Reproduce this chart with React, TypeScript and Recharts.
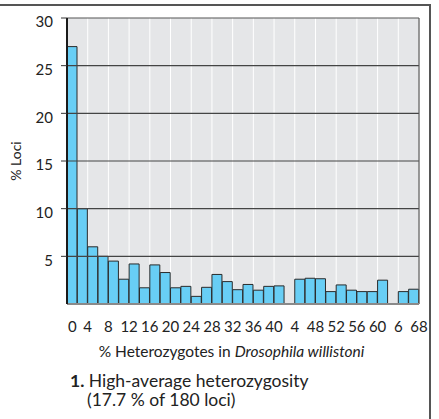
import React from 'react';
import { BarChart, Bar, XAxis, YAxis, CartesianGrid, ReferenceLine, Label } from 'recharts';

// bins of 2 % heterozygosity, 0–68
const binStarts = [
  0, 2, 4, 6, 8, 10, 12, 14, 16, 18, 20, 22, 24, 26, 28, 30, 32,
  34, 36, 38, 40, 42, 44, 46, 48, 50, 52, 54, 56, 58, 60, 62, 64, 66,
];
const lociPercent = [
  27, 10, 6, 5, 4.5, 2.6, 4.2, 1.7, 4.1, 3.3, 1.7, 1.85, 0.8, 1.75, 3.1, 2.35, 1.5,
  2.05, 1.45, 1.85, 1.9, 0, 2.6, 2.7, 2.65, 1.3, 2, 1.45, 1.3, 1.3, 2.5, 0, 1.3, 1.55,
];
const xTicks = [0, 4, 8, 12, 16, 20, 24, 28, 32, 36, 40, 44, 48, 52, 56, 60, 64, 68];
const xTickLabels = ['0', '4', '8', '12', '16', '20', '24', '28', '32', '36', '40', '4', '48', '52', '56', '60', '6', '68'];
const yTicks = [5, 10, 15, 20, 25, 30];
const gridLevels = [5, 10, 15, 20, 25];

const data = binStarts.map((start, i) => ({
  bin: `${start}-${start + 2}`,
  start,
  value: lociPercent[i],
}));

const FONT = 'Lato, "Open Sans", sans-serif';

const XTick = (props: any) => {
  const { x, y, payload } = props;
  const label = xTickLabels[xTicks.indexOf(payload.value)];
  // first label sits just right of the axis corner
  const anchor = payload.value === 0 ? 'start' : 'middle';
  return (
    <text x={payload.value === 0 ? x + 1 : x} y={y + 20} textAnchor={anchor} fontSize={15} fill="#222" fontFamily={FONT}>
      {label}
    </text>
  );
};

const YLabel = (props: any) => {
  const vb = props.viewBox || { x: 0, y: 18, height: 286 };
  const cx = 17;
  const cy = vb.y + vb.height / 2;
  return (
    <text x={cx} y={cy} transform={`rotate(-90, ${cx}, ${cy})`} textAnchor="middle" dominantBaseline="middle"
      fontSize={14} fill="#222" fontFamily={FONT}>
      % Loci
    </text>
  );
};

export default function App() {
  return (
    <div style={{ position: 'absolute', left: 0, top: 0, width: 439, height: 419, background: '#fff', fontFamily: FONT, color: '#222' }}>
      <div style={{ position: 'absolute', left: 0, top: 4, width: 431, height: 420, borderTop: '2px solid #555', borderRight: '2px solid #555', boxSizing: 'border-box' }} />
      <BarChart
        width={439}
        height={340}
        data={data}
        margin={{ top: 18, right: 20, bottom: 6, left: 0 }}
        barCategoryGap={0}
        style={{ position: 'absolute', left: 0, top: 0 }}
      >
        <CartesianGrid xAxisId="num" horizontal={false} stroke="#ffffff" strokeWidth={1} fill="#e5e6e8" />
        <XAxis xAxisId="bins" dataKey="bin" hide height={0} />
        <XAxis
          xAxisId="num"
          type="number"
          dataKey="start"
          domain={[0, 68]}
          allowDataOverflow
          ticks={xTicks}
          interval={0}
          tickLine={false}
          axisLine={{ stroke: '#8a8a8a', strokeWidth: 2 }}
          tick={<XTick />}
          height={30}
        />
        <YAxis
          domain={[0, 30]}
          ticks={yTicks}
          interval={0}
          width={67}
          tickSize={6}
          tickMargin={8}
          tickLine={{ stroke: '#333' }}
          axisLine={{ stroke: '#1a1a1a', strokeWidth: 2 }}
          tick={{ fontSize: 15, fill: '#222', fontFamily: FONT, dy: 4 }}
        >
          <Label content={<YLabel />} />
        </YAxis>
        <Bar
          xAxisId="bins"
          dataKey="value"
          fill="#68cef5"
          stroke="#2a2a2a"
          strokeWidth={1}
          isAnimationActive={false}
        />
        {gridLevels.map((v) => (
          <ReferenceLine key={v} xAxisId="bins" y={v} stroke="#444" strokeWidth={1.2} />
        ))}
        <ReferenceLine xAxisId="bins" y={30} stroke="#555" strokeWidth={1.2} />
        <ReferenceLine xAxisId="num" x={68} stroke="#555" strokeWidth={1.2} />
      </BarChart>
      <div style={{ position: 'absolute', left: 0, width: 463, top: 342, textAlign: 'center', fontSize: 15.5 }}>
        % Heterozygotes in <i>Drosophila willistoni</i>
      </div>
      <div style={{ position: 'absolute', left: 70, top: 371, fontSize: 17.5, lineHeight: '19px' }}>
        <div><b>1.</b> High-average heterozygosity</div>
        <div style={{ paddingLeft: 17 }}>(17.7 % of 180 loci)</div>
      </div>
    </div>
  );
}
